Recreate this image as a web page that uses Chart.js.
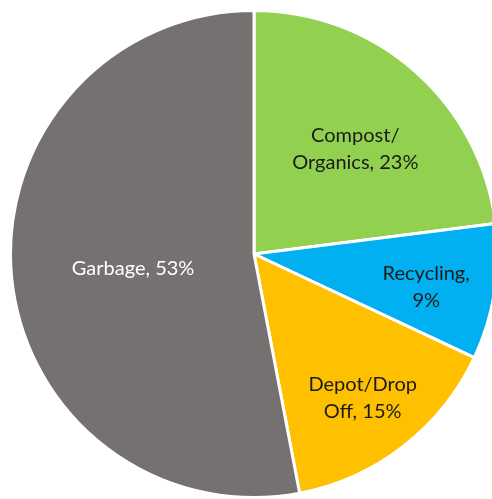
<!DOCTYPE html>
<html>
<head>
<meta charset="utf-8">
<script src="https://cdn.jsdelivr.net/npm/chart.js@4.4.1/dist/chart.umd.min.js"></script>
<style>
  html, body { margin: 0; padding: 0; background: #ffffff; overflow: hidden; }
  #wrap { width: 492px; height: 499px; overflow: hidden; position: relative; }
  #box { width: 508px; height: 499px; position: absolute; left: 0; top: 0; }
</style>
</head>
<body>
<div id="wrap"><div id="box"><canvas id="c"></canvas></div></div>
<script>
// Waste stream shares (percent), clockwise from 12 o'clock
const categories = ["Compost/\nOrganics", "Recycling,\n", "Depot/Drop\nOff", "Garbage"];
const shares = [23, 9, 15, 53];
const sliceColors = ["#92D050", "#00B0F0", "#FFC000", "#767171"];
const labelColors = ["#1b1b1b", "#1b1b1b", "#1b1b1b", "#ffffff"];
// how far out (fraction of radius) each label sits, and its angular nudge (degrees)
const labelRadius = [0.60, 0.72, 0.74, 0.50];
const labelNudge = [2.5, 1.8, 0.7, -1.3];

function labelLines(i) {
  const v = shares[i] + "%";
  if (i === 0) return ["Compost/", "Organics, " + v];
  if (i === 1) return ["Recycling,", v];
  if (i === 2) return ["Depot/Drop", "Off, " + v];
  return ["Garbage, " + v];
}

const sliceLabels = {
  id: "sliceLabels",
  afterDatasetsDraw(chart) {
    const ctx = chart.ctx;
    const meta = chart.getDatasetMeta(0);
    ctx.save();
    ctx.font = "20px Lato, 'Open Sans', sans-serif";
    ctx.textAlign = "center";
    ctx.textBaseline = "middle";
    meta.data.forEach((arc, i) => {
      const p = arc.getProps(["x", "y", "startAngle", "endAngle", "outerRadius"], true);
      const mid = (p.startAngle + p.endAngle) / 2 + labelNudge[i] * Math.PI / 180;
      const r = p.outerRadius * labelRadius[i];
      const cx = p.x + Math.cos(mid) * r;
      const cy = p.y + Math.sin(mid) * r;
      const lines = labelLines(i);
      const lh = 27;
      ctx.fillStyle = labelColors[i];
      lines.forEach((t, k) => {
        ctx.fillText(t, cx, cy + (k - (lines.length - 1) / 2) * lh);
      });
    });
    ctx.restore();
  }
};

new Chart(document.getElementById("c"), {
  type: "pie",
  data: {
    labels: categories,
    datasets: [{
      data: shares,
      backgroundColor: sliceColors,
      borderColor: "#ffffff",
      borderWidth: 3
    }]
  },
  options: {
    responsive: true,
    maintainAspectRatio: false,
    animation: false,
    layout: { padding: { left: 9, right: 9, top: 9, bottom: 0 } },
    plugins: {
      legend: { display: false },
      tooltip: { enabled: false }
    }
  },
  plugins: [sliceLabels]
});
</script>
</body>
</html>
